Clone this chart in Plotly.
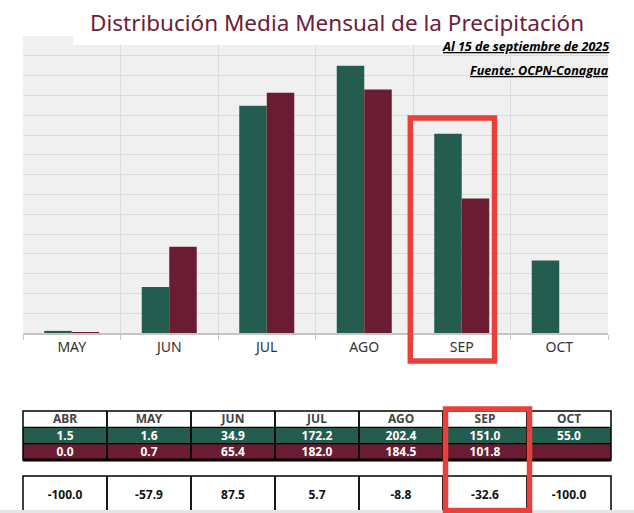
import plotly.graph_objects as go

# ---- data ----
chart_months = ["MAY", "JUN", "JUL", "AGO", "SEP", "OCT"]
series_green = [1.6, 34.9, 172.2, 202.4, 151.0, 55.0]
series_maroon = [0.7, 65.4, 182.0, 184.5, 101.8, None]

table_months = ["ABR", "MAY", "JUN", "JUL", "AGO", "SEP", "OCT"]
table_green = ["1.5", "1.6", "34.9", "172.2", "202.4", "151.0", "55.0"]
table_maroon = ["0.0", "0.7", "65.4", "182.0", "184.5", "101.8", ""]
table_diff = ["-100.0", "-57.9", "87.5", "5.7", "-8.8", "-32.6", "-100.0"]
table_rows = ["mes", "prom", "actual"]

title_text = "Distribución Media Mensual de la Precipitación"
date_text = "Al 15 de septiembre de 2025"
source_text = "Fuente: OCPN-Conagua"

GREEN = "#245C4F"
MAROON = "#691C32"
RED = "#E8403A"
W, H = 634, 513


def px(x):
    return x / W


def py(y):
    return 1 - y / H


fig = go.Figure()
fig.add_trace(go.Bar(x=chart_months, y=series_green, marker=dict(color=GREEN, line=dict(width=0)),
                     showlegend=False, hoverinfo="skip"))
fig.add_trace(go.Bar(x=chart_months, y=series_maroon, marker=dict(color=MAROON, line=dict(width=0)),
                     showlegend=False, hoverinfo="skip"))

# table 1 as a heatmap grid
n = len(table_months)
nr = len(table_rows)
z1 = [[0] * n, [1] * n, [2] * n]
text1 = [table_months, table_green, table_maroon]
fig.add_trace(go.Heatmap(
    x=table_months, y=table_rows, z=z1, text=text1,
    texttemplate="<b>%{text}</b>",
    textfont=dict(family="Noto Sans", size=12),
    colorscale=[[0, "#FFFFFF"], [0.5, GREEN], [1, MAROON]], zmin=0, zmax=2,
    showscale=False, hoverinfo="skip",
    xaxis="x2", yaxis="y2",
))

# table 2 (difference row)
fig.add_trace(go.Heatmap(
    x=table_months, y=["dif"], z=[[0] * n], text=[table_diff],
    texttemplate="<b>%{text}</b>",
    textfont=dict(family="Noto Sans", size=12, color="#111111"),
    colorscale=[[0, "#FFFFFF"], [1, "#FFFFFF"]], zmin=0, zmax=1,
    showscale=False, hoverinfo="skip",
    xaxis="x3", yaxis="y3",
))

shapes = []
# table grid lines
for k in range(1, n):
    for xr, yr in (("x2 domain", "y2 domain"), ("x3 domain", "y3 domain")):
        shapes.append(dict(type="line", xref=xr, yref=yr, x0=k / n, x1=k / n, y0=0, y1=1,
                           line=dict(color="black", width=1.8), layer="above"))
for k in range(1, nr):
    shapes.append(dict(type="line", xref="x2 domain", yref="y2 domain", x0=0, x1=1,
                       y0=k / nr, y1=k / nr, line=dict(color="black", width=1.2), layer="above"))
shapes += [
    dict(type="rect", xref="x2 domain", yref="y2 domain", x0=0, x1=1, y0=0, y1=1,
         line=dict(color="black", width=1.5), layer="above"),
    dict(type="line", xref="x2 domain", yref="y2 domain", x0=0, x1=1, y0=0, y1=0,
         line=dict(color="black", width=3), layer="above"),
    dict(type="rect", xref="x3 domain", yref="y3 domain", x0=0, x1=1, y0=0, y1=1,
         line=dict(color="black", width=1.5), layer="above"),
    # white title box
    dict(type="rect", xref="paper", yref="paper", x0=px(73), x1=1, y0=py(45), y1=1,
         fillcolor="white", line=dict(width=0), layer="above"),
    # red highlight in chart
    dict(type="rect", xref="paper", yref="paper", x0=px(410.3), x1=px(494.5), y0=py(361), y1=py(118),
         line=dict(color=RED, width=5.5), layer="above"),
    # bottom grey band
    dict(type="rect", xref="paper", yref="paper", x0=0, x1=1, y0=0, y1=py(510),
         fillcolor="#E6E6E6", line=dict(width=0), layer="above"),
    # red highlight in table
    dict(type="rect", xref="paper", yref="paper", x0=px(445.5), x1=px(529.5), y0=py(510.5), y1=py(409),
         line=dict(color=RED, width=5.5), layer="above"),
]

annotations = [
    dict(text=title_text, xref="paper", yref="paper", x=px(337), y=py(22), showarrow=False,
         xanchor="center", yanchor="middle", font=dict(family="Noto Sans", size=22.5, color="#6B2039")),
    dict(text=f"<b><i><u>{date_text}</u></i></b>", xref="paper", yref="paper", x=px(611), y=py(46),
         showarrow=False, xanchor="right", yanchor="middle",
         font=dict(family="Open Sans", size=12.6, color="black")),
    dict(text=f"<b><i><u>{source_text}</u></i></b>", xref="paper", yref="paper", x=px(611), y=py(71),
         showarrow=False, xanchor="right", yanchor="middle",
         font=dict(family="Open Sans", size=12.6, color="black")),
]

hidden = dict(showticklabels=False, showgrid=False, zeroline=False, showline=False,
              ticks="", fixedrange=True)

fig.update_layout(
    width=W, height=H,
    margin=dict(l=0, r=0, t=0, b=0),
    paper_bgcolor="white",
    plot_bgcolor="#F0F0F0",
    barmode="group", bargap=0.436, bargroupgap=0,
    xaxis=dict(domain=[px(23), px(608)], type="category", tickson="boundaries",
               showgrid=True, gridcolor="#DCDCDC", gridwidth=1,
               ticks="outside", ticklen=5, tickcolor="#C8C8C8",
               showline=True, linecolor="#C4C4C4", linewidth=1.5,
               tickfont=dict(family="Noto Sans", size=14, color="#333333"),
               fixedrange=True),
    yaxis=dict(domain=[py(333), py(36)], range=[0, 225], dtick=15,
               showgrid=True, gridcolor="#DCDCDC", gridwidth=1,
               showticklabels=False, zeroline=False, fixedrange=True),
    xaxis2=dict(domain=[px(23), px(611)], anchor="y2", type="category", **hidden),
    yaxis2=dict(domain=[py(460), py(411)], anchor="x2", type="category",
                autorange="reversed", **hidden),
    xaxis3=dict(domain=[px(23), px(611)], anchor="y3", type="category", **hidden),
    yaxis3=dict(domain=[py(513), py(476)], anchor="x3", type="category", **hidden),
    shapes=shapes,
    annotations=annotations,
)

fig.write_html("out.html")
